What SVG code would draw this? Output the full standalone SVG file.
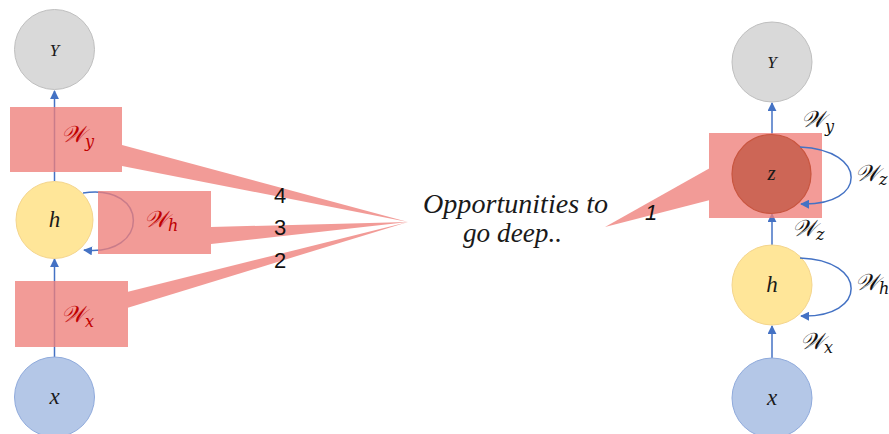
<svg xmlns="http://www.w3.org/2000/svg" width="889" height="434" viewBox="0 0 889 434">
<defs>
<marker id="ah" viewBox="0 0 10 10" refX="9" refY="5" markerWidth="9" markerHeight="9" markerUnits="userSpaceOnUse" orient="auto">
<path d="M0,0 L10,5 L0,10 z" fill="#4472C4"/>
</marker>
<style>
.conn{fill:none;stroke:#4472C4;stroke-width:1.5;marker-end:url(#ah)}
.ny{fill:#D9D9D9;stroke:#BFBFBF;stroke-width:1}
.nh{fill:#FFE699;stroke:#F4D58D;stroke-width:1}
.nx{fill:#B4C7E7;stroke:#8FAADC;stroke-width:1}
.nz{fill:#CD6656;stroke:#C8553F;stroke-width:1.2}
.pink{fill:#EF7F7A}
.lbl{font-family:"Liberation Serif",serif;font-style:italic;fill:#1a1a1a}
.w{font-family:"DejaVu Serif","Liberation Serif",serif;font-style:italic;font-size:23px}
.wl{fill:#C00000}
.wr{fill:#111}
.sub{font-size:16px}
.num{font-family:"Liberation Sans",Arial,sans-serif;font-size:22px;fill:#111}
</style>
</defs>
<rect width="889" height="434" fill="#fff"/>

<g id="connectors">
<line class="conn" x1="54.5" y1="181" x2="54.5" y2="91"/>
<line class="conn" x1="54.5" y1="357" x2="54.5" y2="259"/>
<path class="conn" d="M83,193 C150,183 150,257 84,250"/>
<line class="conn" x1="772" y1="135" x2="772" y2="103"/>
<line class="conn" x1="772" y1="245" x2="772" y2="214"/>
<line class="conn" x1="772" y1="358" x2="772" y2="326"/>
</g>

<g id="node-Y-left"><circle class="ny" cx="54.5" cy="49.5" r="40"/><text class="lbl" x="54.5" y="56" font-size="17" text-anchor="middle">Y</text></g>
<g id="node-h-left"><circle class="nh" cx="54.5" cy="220" r="38.5"/><text class="lbl" x="54.5" y="227" font-size="23" text-anchor="middle">h</text></g>
<g id="node-x-left"><circle class="nx" cx="54.5" cy="397" r="40"/><text class="lbl" x="54.5" y="404" font-size="23" text-anchor="middle">x</text></g>

<g id="highlights" opacity="0.78">
<polygon class="pink" points="122,145 408,222 122,166"/>
<polygon class="pink" points="211,227 408,222 211,244"/>
<polygon class="pink" points="127,292 408,222 127,308"/>
<polygon class="pink" points="605,227 710,168 710,200"/>
<rect class="pink" x="10" y="107" width="112" height="65"/>
<rect class="pink" x="98" y="191" width="113" height="63"/>
<rect class="pink" x="15" y="281" width="113" height="66"/>
<rect class="pink" x="709" y="133" width="113" height="85"/>
</g>

<g id="labels-left">
<text class="w wl" x="61" y="142">𝒲<tspan class="sub" dy="5">y</tspan></text>
<text class="w wl" x="144" y="227">𝒲<tspan class="sub" dy="4">h</tspan></text>
<text class="w wl" x="61" y="322">𝒲<tspan class="sub" dy="5">x</tspan></text>
</g>

<g id="numbers">
<text class="num" x="280" y="203" text-anchor="middle">4</text>
<text class="num" x="280" y="235" text-anchor="middle">3</text>
<text class="num" x="280" y="268" text-anchor="middle">2</text>
<text class="num" x="651" y="220" text-anchor="middle" font-style="italic">1</text>
</g>

<g id="caption">
<text class="lbl" x="423" y="213" font-size="27" textLength="185" lengthAdjust="spacingAndGlyphs">Opportunities to</text>
<text class="lbl" x="463" y="242" font-size="27" textLength="99" lengthAdjust="spacingAndGlyphs">go deep..</text>
</g>

<g id="node-Y-right"><circle class="ny" cx="772" cy="62" r="40"/><text class="lbl" x="772" y="68" font-size="17" text-anchor="middle">Y</text></g>
<g id="node-z-right"><circle class="nz" cx="771.5" cy="174" r="39.5"/><text class="lbl" x="771.5" y="180" font-size="21" text-anchor="middle" fill="#5a1208">z</text></g>
<g id="node-h-right"><circle class="nh" cx="772" cy="285" r="40"/><text class="lbl" x="772" y="292" font-size="23" text-anchor="middle">h</text></g>
<g id="node-x-right"><circle class="nx" cx="772" cy="398" r="40"/><text class="lbl" x="772" y="405" font-size="23" text-anchor="middle">x</text></g>

<g id="connectors-loops">
<path class="conn" d="M800,147 C868,150 868,206 801,204"/>
<path class="conn" d="M800,258 C868,260 868,318 801,316"/>
</g>

<g id="labels-right">
<text class="w wr" x="801" y="127">𝒲<tspan class="sub" dy="5">y</tspan></text>
<text class="w wr" x="855" y="181">𝒲<tspan class="sub" dy="4">z</tspan></text>
<text class="w wr" x="792" y="236">𝒲<tspan class="sub" dy="4">z</tspan></text>
<text class="w wr" x="855" y="290">𝒲<tspan class="sub" dy="4">h</tspan></text>
<text class="w wr" x="800" y="349">𝒲<tspan class="sub" dy="4">x</tspan></text>
</g>
</svg>
